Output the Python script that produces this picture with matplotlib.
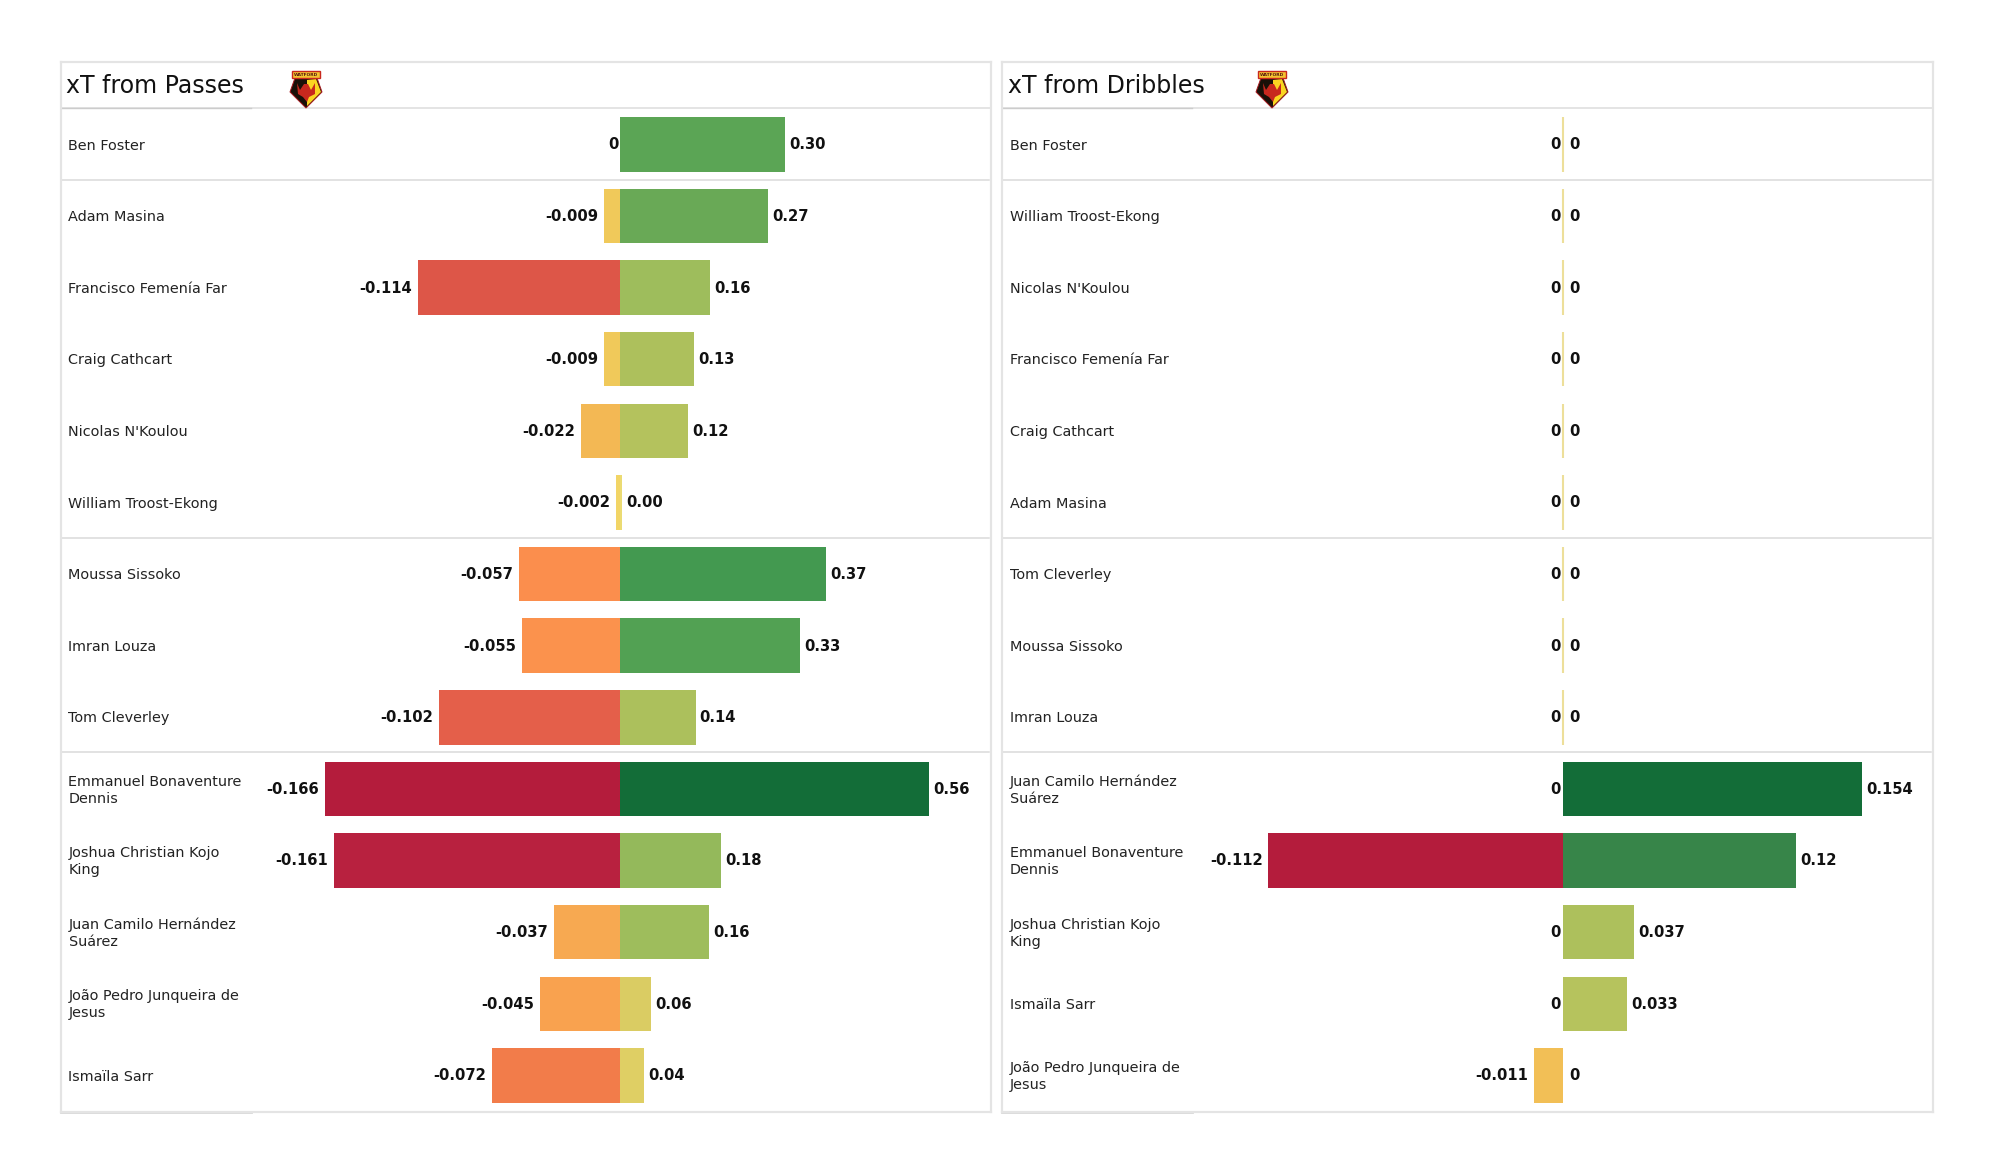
import matplotlib
matplotlib.use('Agg')
import matplotlib.pyplot as plt
from matplotlib.colors import LinearSegmentedColormap
from matplotlib.patches import Polygon

# Data, rows top to bottom
pass_names = ['Ben Foster', 'Adam Masina', 'Francisco Femenía Far', 'Craig Cathcart',
              "Nicolas N'Koulou", 'William Troost-Ekong', 'Moussa Sissoko', 'Imran Louza',
              'Tom Cleverley', 'Emmanuel Bonaventure\nDennis', 'Joshua Christian Kojo\nKing',
              'Juan Camilo Hernández\nSuárez', 'João Pedro Junqueira de\nJesus', 'Ismaïla Sarr']
pass_neg = [0, -0.009, -0.114, -0.009, -0.022, -0.002, -0.057, -0.055, -0.102,
            -0.166, -0.161, -0.037, -0.045, -0.072]
pass_pos = [0.30, 0.268, 0.164, 0.134, 0.124, 0.004, 0.374, 0.327, 0.137, 0.56, 0.183, 0.162,
            0.057, 0.043]
pass_pos_labels = ['0.30', '0.27', '0.16', '0.13', '0.12', '0.00', '0.37', '0.33', '0.14',
                   '0.56', '0.18', '0.16', '0.06', '0.04']

drib_names = ['Ben Foster', 'William Troost-Ekong', "Nicolas N'Koulou", 'Francisco Femenía Far',
              'Craig Cathcart', 'Adam Masina', 'Tom Cleverley', 'Moussa Sissoko', 'Imran Louza',
              'Juan Camilo Hernández\nSuárez', 'Emmanuel Bonaventure\nDennis',
              'Joshua Christian Kojo\nKing', 'Ismaïla Sarr', 'João Pedro Junqueira de\nJesus']
drib_neg = [0, 0, 0, 0, 0, 0, 0, 0, 0, 0, -0.112, 0, 0, -0.011]
drib_pos = [0, 0, 0, 0, 0, 0, 0, 0, 0, 0.154, 0.12, 0.037, 0.033, 0]
drib_pos_labels = ['0', '0', '0', '0', '0', '0', '0', '0', '0', '0.154', '0.12', '0.037', '0.033', '0']

group_breaks = [0.5, 5.5, 8.5]

W, H = 2000, 1175
FRAME = '#e4e4e4'

neg_cmap = LinearSegmentedColormap.from_list('neg', [
    (0.0, '#f2d86a'), (0.054, '#f0c859'), (0.13, '#f3b854'), (0.27, '#f9a24f'), (0.343, '#fb8e4d'),
    (0.434, '#f27c4a'), (0.614, '#e45f4a'), (0.687, '#dd5648'), (0.97, '#b8213f'), (1.0, '#b41c3c')])
pos_cmap = LinearSegmentedColormap.from_list('pos', [
    (0.0, '#ecdc74'), (0.07, '#e0cf64'), (0.107, '#d9cc63'), (0.24, '#adc05c'), (0.286, '#9fbd5c'),
    (0.482, '#68a956'), (0.536, '#5ba555'), (0.66, '#449a50'), (0.78, '#378549'), (1.0, '#136d38')])


def px_axes(fig, left, top, right, bottom):
    return fig.add_axes([left / W, 1 - bottom / H, (right - left) / W, (bottom - top) / H])


def draw_logo(fig, x, y):
    # small shield, x and y are the top middle in pixels
    def pts(coords):
        return [((x + a) / W, 1 - (y + b) / H) for a, b in coords]
    fig.add_artist(Polygon(pts([(-11, 8), (11, 8), (16, 22), (0, 38), (-16, 22)]),
                           transform=fig.transFigure, fc='#1a1008', ec='#a81a20', lw=0.7, zorder=5))
    fig.add_artist(Polygon(pts([(1, 10), (10, 9), (15, 22), (1, 36)]),
                           transform=fig.transFigure, fc='#fbd422', ec='none', zorder=6))
    fig.add_artist(Polygon(pts([(-14, 1), (14, 1), (14, 8), (-14, 8)]),
                           transform=fig.transFigure, fc='#f4c430', ec='#c8281e', lw=1.0, zorder=6))
    fig.add_artist(Polygon(pts([(-9, 13), (-6, 20), (-2, 14), (2, 14), (5, 20), (9, 13), (9, 24), (3, 27),
                                (1, 32), (-3, 27), (-8, 24)]),
                           transform=fig.transFigure, fc='#c8281e', ec='none', zorder=7))
    fig.text(x / W, 1 - (y + 4.5) / H, 'WATFORD', fontsize=3.2, fontweight='bold', color='#5a1a10',
             ha='center', va='center', zorder=8)


def draw_panel(fig, box, title, names, neg, pos, pos_labels, zero_x, neg_lim, pos_lim):
    left, top, right, bottom = box
    # background holds the frame, separators and player names
    bg = px_axes(fig, left, top, right, bottom)
    bg.set_xlim(0, 1)
    bg.set_ylim(13.52, -1.142)
    bg.set_xticks([])
    bg.set_yticks([])
    for s in bg.spines.values():
        s.set_color(FRAME)
        s.set_linewidth(1.6)
    bg.axhline(-0.5, color=FRAME, lw=1.4)
    for b in group_breaks:
        bg.axhline(b, xmax=0.998, color='#dadada', lw=1.1)
    name_w = 190 / (right - left)
    bg.plot([0, name_w], [-0.5, -0.5], color='#cccccc', lw=1.0)
    bg.plot([0, name_w], [13.52, 13.52], color='#d8d8d8', lw=2.0, clip_on=False)
    bg.text(0.0062, -0.80, title, fontsize=17.0, color='#111111', va='center', ha='left')

    trans = bg.get_yaxis_transform()
    for i, name in enumerate(names):
        bg.text(8 / (right - left), i + 0.025, name, transform=trans, fontsize=10.4, color='#222222',
                va='center', ha='left', linespacing=1.28)

    # bars sit a touch lower than the separators
    ax_neg = px_axes(fig, left, top + 0.6, zero_x, bottom + 0.6)
    ax_pos = px_axes(fig, zero_x, top + 0.6, right, bottom + 0.6)
    ax_neg.set_xlim(neg_lim, 0)
    ax_pos.set_xlim(0, pos_lim)
    neg_max = max(abs(v) for v in neg)
    pos_max = max(pos)
    for ax in (ax_neg, ax_pos):
        ax.set_ylim(13.52, -1.142)
        ax.axis('off')
        ax.patch.set_alpha(0)

    rows = list(range(len(names)))
    ax_neg.barh(rows, neg, height=0.76, color=[neg_cmap(abs(v) / neg_max) for v in neg], linewidth=0)
    ax_pos.barh(rows, pos, height=0.76, color=[pos_cmap(v / pos_max) for v in pos], linewidth=0)

    for i, v in enumerate(neg):
        ax_neg.annotate('0' if v == 0 else f'{v:.3f}', (v, i), xytext=(-4.2 if v else -1.0, -0.3),
                        textcoords='offset points', ha='right', va='center',
                        fontsize=10.6, fontweight='bold', color='#111111')
        if v == 0 and pos[i] == 0:
            ax_neg.plot([0, 0], [i - 0.38, i + 0.38], color='#eddf9a', lw=1.5, clip_on=False,
                        solid_capstyle='butt')
    for i, v in enumerate(pos):
        ax_pos.annotate(pos_labels[i], (v, i), xytext=(3.0 if v else 5.2, -0.3),
                        textcoords='offset points', ha='left', va='center',
                        fontsize=10.6, fontweight='bold', color='#111111')


fig = plt.figure(figsize=(20, 11.75), dpi=100, facecolor='white')

draw_panel(fig, (60.5, 62, 991, 1112), 'xT from Passes', pass_names, pass_neg, pass_pos,
           pass_pos_labels, 620, -0.315, 0.673)
draw_panel(fig, (1002, 62, 1933, 1112), 'xT from Dribbles', drib_names, drib_neg, drib_pos,
           drib_pos_labels, 1562.5, -0.2135, 0.1904)
draw_logo(fig, 306, 70)
draw_logo(fig, 1272, 70)

fig.savefig('out.png', dpi=100, facecolor='white')
